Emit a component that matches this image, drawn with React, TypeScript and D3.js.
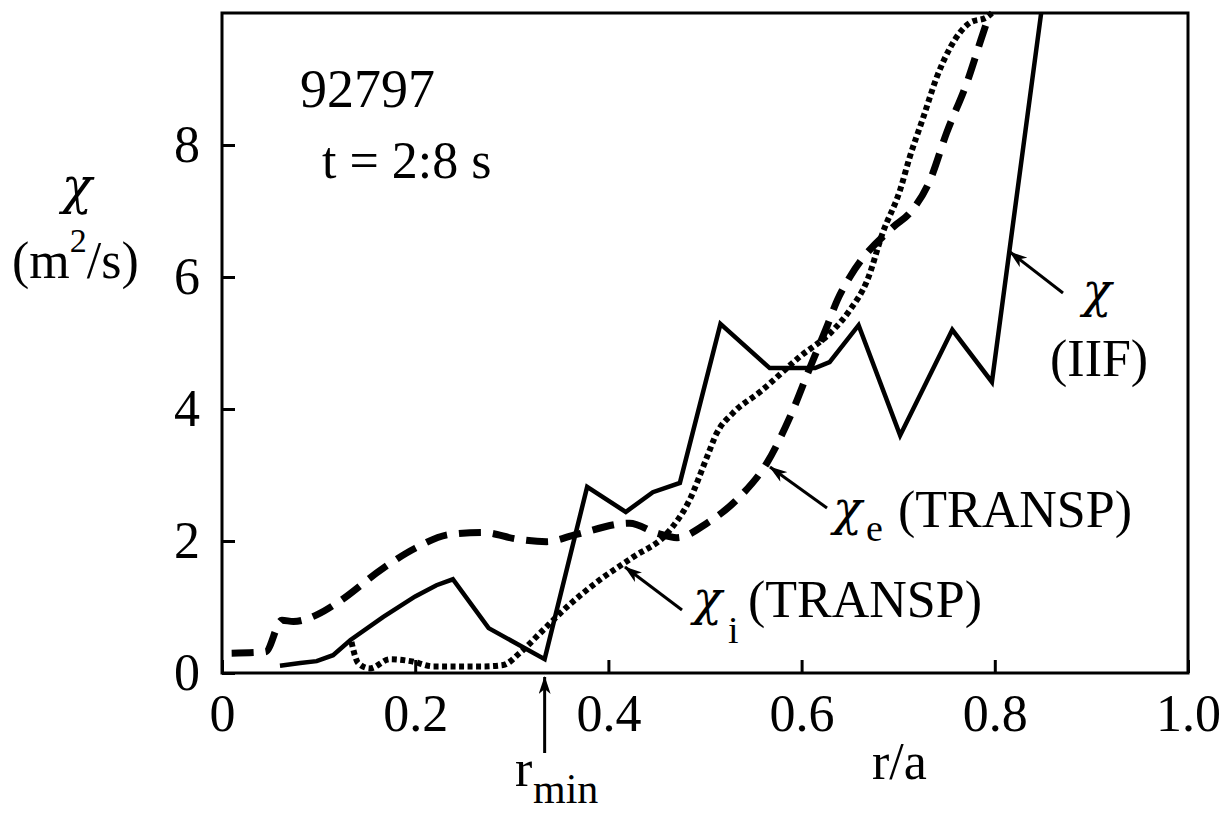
import React, { useEffect, useRef } from 'react';
import * as d3 from 'd3';

// chi (IIF), solid line
const iifR = [0.060, 0.081, 0.098, 0.115, 0.133, 0.167, 0.200, 0.222, 0.239, 0.276, 0.334, 0.378, 0.418, 0.446, 0.474, 0.516, 0.567, 0.614, 0.629, 0.659, 0.702, 0.756, 0.797, 0.848];
const iifChi = [0.11, 0.15, 0.18, 0.27, 0.50, 0.85, 1.16, 1.33, 1.42, 0.68, 0.21, 2.82, 2.44, 2.74, 2.88, 5.29, 4.62, 4.62, 4.71, 5.27, 3.60, 5.20, 4.41, 10.0];

// chi_e (TRANSP), dashed
const chiER = [0.010, 0.045, 0.062, 0.074, 0.098, 0.119, 0.167, 0.200, 0.236, 0.270, 0.305, 0.336, 0.367, 0.422, 0.450, 0.471, 0.502, 0.536, 0.564, 0.588, 0.609, 0.626, 0.637, 0.650, 0.695, 0.712, 0.733, 0.750, 0.771, 0.788, 0.795];
const chiE = [0.30, 0.32, 0.80, 0.78, 0.88, 1.06, 1.59, 1.89, 2.10, 2.13, 2.03, 1.99, 2.10, 2.27, 2.12, 2.05, 2.27, 2.67, 3.18, 3.88, 4.64, 5.24, 5.65, 6.00, 6.76, 6.97, 7.47, 8.18, 8.94, 9.70, 10.0];

// chi_i (TRANSP), dotted
const chiIR = [0.134, 0.141, 0.153, 0.174, 0.195, 0.219, 0.270, 0.291, 0.308, 0.329, 0.357, 0.391, 0.426, 0.461, 0.484, 0.502, 0.512, 0.529, 0.557, 0.598, 0.633, 0.650, 0.668, 0.684, 0.702, 0.712, 0.726, 0.740, 0.754, 0.774, 0.792, 0.797];
const chiI = [0.47, 0.15, 0.07, 0.21, 0.18, 0.10, 0.10, 0.12, 0.30, 0.60, 1.00, 1.41, 1.76, 2.12, 2.62, 3.27, 3.63, 3.94, 4.26, 4.79, 5.20, 5.50, 5.95, 6.67, 7.32, 7.82, 8.42, 9.03, 9.48, 9.85, 9.94, 10.0];

const xTicks = [0, 0.2, 0.4, 0.6, 0.8, 1.0];
const xTickLabels = ['0', '0.2', '0.4', '0.6', '0.8', '1.0'];
const yTicks = [0, 2, 4, 6, 8];
const yTickLabels = ['0', '2', '4', '6', '8'];
const rMin = 0.334;

const FONT = '"Liberation Serif", "Times New Roman", Times, serif';
const CHI_FONT = '"DejaVu Serif", "Liberation Serif", serif';

const App = () => {
    const svgRef = useRef<SVGSVGElement>(null);

    useEffect(() => {
        if (!svgRef.current) return;
        const W = 1227, H = 815;
        const margin = { top: 13, right: 39, bottom: 142, left: 222 };

        const svg = d3.select(svgRef.current);
        svg.selectAll('*').remove();
        svg.attr('width', W).attr('height', H);

        const x = d3.scaleLinear().domain([0, 1]).range([margin.left, W - margin.right]);
        const y = d3.scaleLinear().domain([0, 10]).range([H - margin.bottom, margin.top]);

        const defs = svg.append('defs');
        defs.append('marker')
            .attr('id', 'arr')
            .attr('viewBox', '0 0 18 12')
            .attr('refX', 17).attr('refY', 6)
            .attr('markerWidth', 18).attr('markerHeight', 12)
            .attr('markerUnits', 'userSpaceOnUse')
            .attr('orient', 'auto')
            .append('path')
            .attr('d', 'M0,0 L18,6 L0,12 L5,6 Z')
            .attr('fill', '#000');

        // curves
        const lineIIF = d3.line<number>().x((d, i) => x(iifR[i])).y(d => y(d));
        const lineE = d3.line<number>().x((d, i) => x(chiER[i])).y(d => y(d)).curve(d3.curveMonotoneX);
        const lineI = d3.line<number>().x((d, i) => x(chiIR[i])).y(d => y(d)).curve(d3.curveMonotoneX);

        svg.append('path').attr('d', lineE(chiE))
            .attr('fill', 'none').attr('stroke', '#000').attr('stroke-width', 7)
            .attr('stroke-dasharray', '22 12');
        svg.append('path').attr('d', lineI(chiI))
            .attr('fill', 'none').attr('stroke', '#000').attr('stroke-width', 6)
            .attr('stroke-dasharray', '5 3.5');
        svg.append('path').attr('d', lineIIF(iifChi))
            .attr('fill', 'none').attr('stroke', '#000').attr('stroke-width', 4.5)
            .attr('stroke-linejoin', 'miter');

        // frame
        svg.append('rect')
            .attr('x', x(0)).attr('y', y(10))
            .attr('width', x(1) - x(0)).attr('height', y(0) - y(10))
            .attr('fill', 'none').attr('stroke', '#000').attr('stroke-width', 3);

        const gx = svg.append('g')
            .attr('transform', `translate(0,${y(0)})`)
            .call(d3.axisBottom(x).tickValues(xTicks).tickFormat((d, i) => xTickLabels[i])
                .tickSizeInner(-13).tickSizeOuter(0).tickPadding(21));
        gx.attr('font-size', 52).attr('font-family', FONT);
        gx.select('.domain').remove();
        gx.selectAll('line').attr('stroke', '#000').attr('stroke-width', 3);
        gx.selectAll('text').attr('fill', '#000');

        const gy = svg.append('g')
            .attr('transform', `translate(${x(0)},0)`)
            .call(d3.axisLeft(y).tickValues(yTicks).tickFormat((d, i) => yTickLabels[i])
                .tickSizeInner(-13).tickSizeOuter(0).tickPadding(22));
        gy.attr('font-size', 52).attr('font-family', FONT);
        gy.select('.domain').remove();
        gy.selectAll('line').attr('stroke', '#000').attr('stroke-width', 3);
        gy.selectAll('text').attr('fill', '#000');

        const text = (tx: number, ty: number, s: string, size = 52, anchor = 'start') =>
            svg.append('text').attr('x', tx).attr('y', ty)
                .attr('font-family', FONT).attr('font-size', size)
                .attr('text-anchor', anchor).attr('fill', '#000').text(s);
        const chi = (tx: number, ty: number, size = 48, anchor = 'start') =>
            svg.append('text').attr('x', tx).attr('y', ty)
                .attr('font-family', CHI_FONT).attr('font-style', 'italic').attr('font-size', size)
                .attr('text-anchor', anchor).attr('fill', '#000').text('χ');

        // axis titles
        chi(77, 203, 50, 'middle');
        const unit = svg.append('text').attr('x', 12).attr('y', 278)
            .attr('font-family', FONT).attr('font-size', 52).attr('fill', '#000');
        unit.append('tspan').text('(m');
        unit.append('tspan').attr('dy', -26).attr('font-size', 34).text('2');
        unit.append('tspan').attr('dy', 26).text('/s)');

        text(872, 779, 'r/a');
        text(515, 786, 'r');
        text(533, 803, 'min', 42);

        // shot info
        text(300, 107, '92797', 54);
        text(322, 178, 't = 2:8 s', 52);

        // curve labels
        chi(1097, 307, 48, 'middle');
        text(1050, 376, '(IIF)');
        chi(833, 525, 48);
        text(866, 541, 'e', 38);
        text(898, 527, '(TRANSP)');
        chi(693, 615, 48);
        text(728, 643, 'i', 38);
        text(748, 617, '(TRANSP)');

        // arrows
        const arrow = (x1: number, y1: number, x2: number, y2: number) =>
            svg.append('line').attr('x1', x1).attr('y1', y1).attr('x2', x2).attr('y2', y2)
                .attr('stroke', '#000').attr('stroke-width', 3).attr('marker-end', 'url(#arr)');
        arrow(1063, 293, 1010, 252);
        arrow(827, 508, 770, 467);
        arrow(682, 610, 625, 567);
        arrow(x(rMin), y(0) + 80, x(rMin), y(0) + 4);
    }, []);

    return (
        <svg ref={svgRef} style={{ position: 'absolute', left: 0, top: 0, background: '#fff' }}></svg>
    );
};

export default App;
